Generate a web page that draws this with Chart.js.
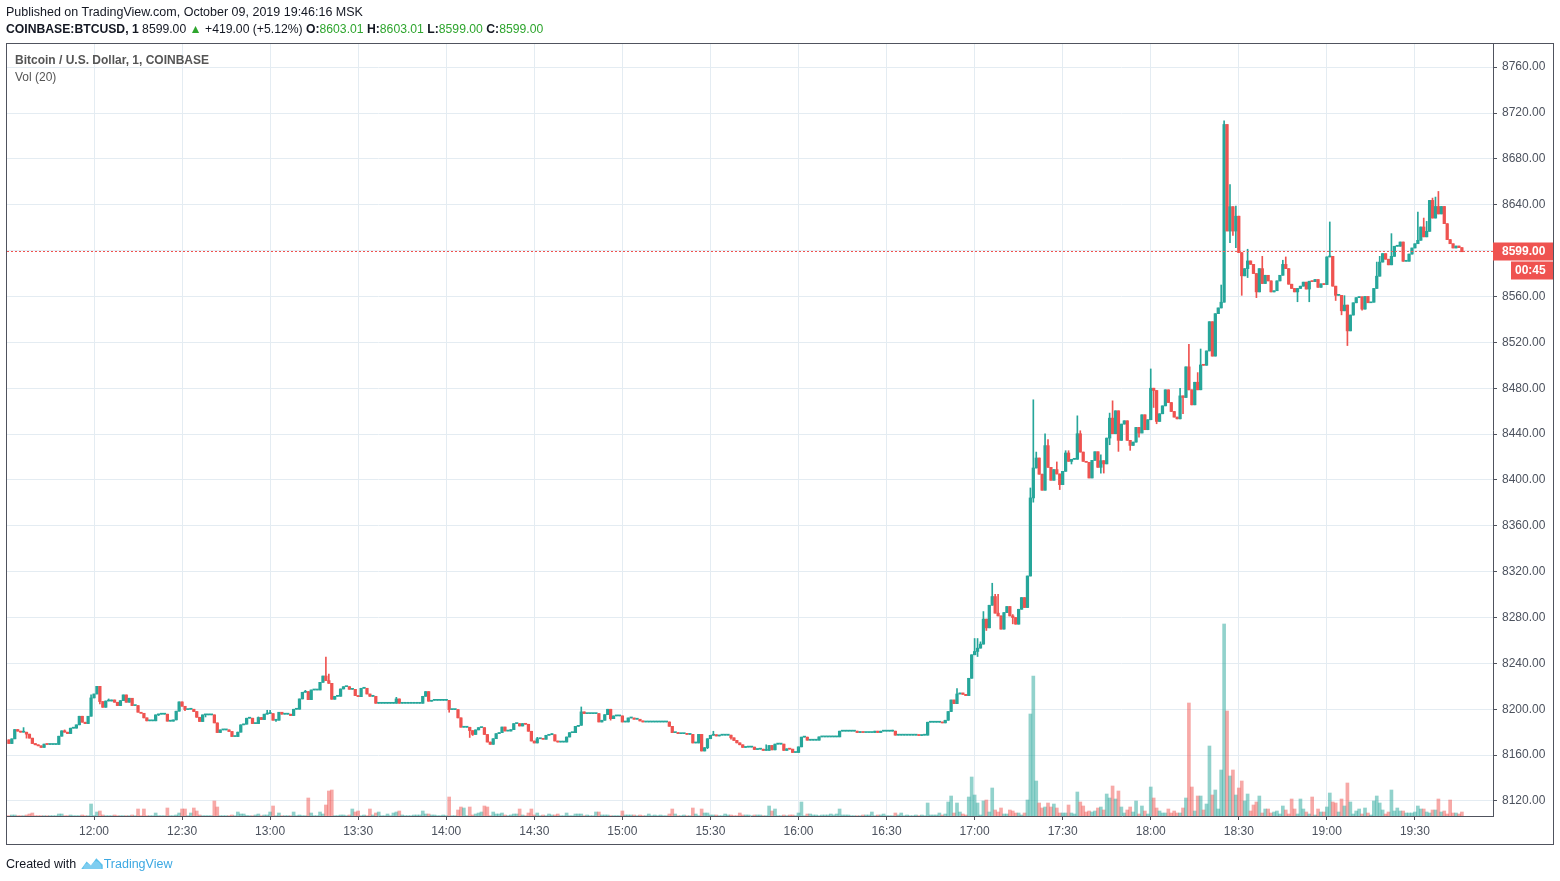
<!DOCTYPE html>
<html>
<head>
<meta charset="utf-8">
<script src="https://cdn.jsdelivr.net/npm/chart.js@4.4.0/dist/chart.umd.min.js"></script>
<style>
body { margin: 0; background: #fff; width: 1560px; height: 881px; overflow: hidden; font-family: "Liberation Sans", Arial, sans-serif; color: #131722; }
#chart { position: absolute; left: 0; top: 0; }
.txt { position: absolute; left: 6px; font-size: 12.5px; line-height: 16px; white-space: nowrap; }
.g { color: #2ea52e; }
.leg { position: absolute; left: 15px; font-size: 12px; line-height: 16px; color: #555; white-space: nowrap; }
.tv { color: #3ca8e2; }
</style>
</head>
<body>
<canvas id="chart" width="1560" height="881"></canvas>
<div class="txt" style="top:4px">Published on TradingView.com, October 09, 2019 19:46:16 MSK</div>
<div class="txt" style="top:21px;font-size:12.2px"><b>COINBASE:BTCUSD, 1</b> 8599.00 <span class="g">&#9650;</span> +419.00 (+5.12%) <b>O:</b><span class="g">8603.01</span> <b>H:</b><span class="g">8603.01</span> <b>L:</b><span class="g">8599.00</span> <b>C:</b><span class="g">8599.00</span></div>
<div class="leg" style="top:52px;font-weight:bold">Bitcoin / U.S. Dollar, 1, COINBASE</div>
<div class="leg" style="top:69px">Vol (20)</div>
<div class="txt" style="top:855px">Created with <svg width="24" height="15" viewBox="0 0 22 14" style="vertical-align:-2px"><path d="M1 13 L6 6 L10 10 L15 3 L21 9 L21 13 Z" fill="#5bc0eb"/><path d="M3 13 C3 7 9 7 10 10 C12 4 19 4 20 13 Z" fill="#8fd3f2" opacity="0.7"/></svg><span class="tv">TradingView</span></div>

<script>
// 1 minute candles from 11:31 to 19:46
const startMinute = 11 * 60 + 31;
const firstOpen = 8173.3;

const closes = [
  8170.1, 8174.2, 8182.3, 8180.9, 8180, 8180, 8178.3, 8174.8, 8170.1, 8169,
  8168.1, 8166.7, 8169.6, 8169.3, 8169.3, 8169.3, 8169.3, 8176.5, 8181.2, 8180,
  8178.8, 8183.5, 8183.5, 8186.4, 8193.9, 8188.7, 8187.5, 8193.9, 8209.9, 8213.3,
  8220, 8206.7, 8201.7, 8207.2, 8207.2, 8208.1, 8206.1, 8203.2, 8207.5, 8212.5,
  8206.1, 8209.6, 8203.2, 8203.2, 8197.4, 8196.5, 8192.5, 8189.9, 8189.9, 8189.9,
  8195.1, 8195.7, 8195.7, 8195.7, 8189.6, 8189.6, 8190.7, 8198.3, 8206.4, 8202.6,
  8199.7, 8200, 8200, 8198, 8193, 8189.3, 8195.1, 8195.1, 8195.1, 8195.1,
  8188.1, 8179.7, 8182, 8182, 8182, 8180.6, 8176.2, 8176.2, 8180, 8186.4,
  8187, 8192.2, 8192.2, 8187.5, 8187.5, 8192.8, 8191, 8195.7, 8196.2, 8196.2,
  8190.4, 8190.4, 8197.4, 8195.7, 8195.7, 8195.7, 8194.5, 8200, 8200, 8209,
  8214.8, 8215.4, 8208.4, 8216.8, 8216.8, 8216.8, 8223.5, 8229, 8225, 8222.6,
  8208.7, 8211.3, 8211.3, 8217.7, 8219.7, 8219.7, 8217.4, 8217.4, 8211.9, 8211,
  8218.3, 8218.3, 8213.3, 8211.3, 8211.3, 8205.2, 8205.2, 8205.2, 8205.2, 8205.2,
  8205.2, 8205.2, 8209, 8205.2, 8205.2, 8205.2, 8205.2, 8205.2, 8205.2, 8205.2,
  8205.2, 8211.3, 8215.4, 8207, 8207.8, 8207.8, 8207.8, 8207.8, 8207.8, 8207.8,
  8199.7, 8199.7, 8199.7, 8192.5, 8184.3, 8184.3, 8184.3, 8181.4, 8178, 8182,
  8184, 8184, 8178, 8171.4, 8169.4, 8174.3, 8178.7, 8179.6, 8184.5, 8181,
  8181, 8182.2, 8187.5, 8187.5, 8185.4, 8187.5, 8186.9, 8180.8, 8172.3, 8170.6,
  8174.3, 8174.3, 8173.8, 8177.3, 8177.8, 8177.8, 8172.3, 8171.4, 8171.4, 8171.4,
  8175.8, 8179.6, 8179.6, 8185.1, 8186, 8197.7, 8196.2, 8196.2, 8196.2, 8196.2,
  8196.2, 8188.9, 8190.4, 8195.3, 8200, 8191.8, 8194.2, 8194.2, 8194.2, 8188.9,
  8188.9, 8192.4, 8192.4, 8191.3, 8191.3, 8189.8, 8188.9, 8188.9, 8188.9, 8188.9,
  8188.9, 8188.9, 8188.9, 8188.9, 8188.9, 8185.1, 8179.6, 8179.6, 8178.7, 8178.7,
  8178.7, 8178.1, 8178.1, 8170.6, 8170.6, 8178.1, 8163.6, 8166.5, 8174.3, 8177.3,
  8177.8, 8176.7, 8177.4, 8177.4, 8177.4, 8177.4, 8175.1, 8172.8, 8170.7, 8169,
  8166.7, 8167, 8167, 8167, 8164.9, 8165.2, 8165.2, 8164.1, 8164.1, 8168.4,
  8164.6, 8169.6, 8169.6, 8169.6, 8164.1, 8165.5, 8165.2, 8162.3, 8162.3, 8167.2,
  8175.7, 8175.7, 8173, 8173, 8173, 8173, 8175.9, 8175.9, 8175.9, 8175.9,
  8175.9, 8175.9, 8175.9, 8180.9, 8180.9, 8180.9, 8180.9, 8180.9, 8180.9, 8179.7,
  8180.3, 8179.7, 8179.7, 8179.7, 8179.7, 8180.9, 8179.7, 8180.9, 8180.9, 8180.9,
  8180.9, 8180.9, 8177.4, 8177.4, 8177.4, 8177.4, 8177.4, 8177.4, 8177.4, 8177.4,
  8177.1, 8177.4, 8177.4, 8188.7, 8188.7, 8188.7, 8188.7, 8188.7, 8188.1, 8190.4,
  8198, 8208.1, 8204.9, 8213.3, 8214.2, 8213, 8211.9, 8227, 8247.5, 8250.4,
  8253.3, 8256.8, 8278.6, 8271, 8290.7, 8298.3, 8283.8, 8281.4, 8269.9, 8284.3,
  8289.6, 8281.4, 8280, 8274.2, 8287.2, 8297.4, 8288.7, 8316.2, 8384.3, 8410.4,
  8419.1, 8405, 8391, 8429.9, 8411, 8399.7, 8409, 8405.2, 8395.9, 8407.5,
  8423.5, 8416.2, 8418, 8418, 8440.3, 8424.3, 8416.2, 8415.4, 8401.7, 8417.1,
  8424.6, 8411, 8416.8, 8414, 8436.5, 8453.9, 8440.3, 8460.3, 8434.5, 8448.7,
  8451.6, 8434.5, 8430.1, 8433, 8445.8, 8440.9, 8456.8, 8443.8, 8452.5, 8480,
  8478, 8451, 8457.7, 8464.6, 8478.6, 8467.5, 8459.7, 8454.8, 8453.3, 8473.3,
  8471.9, 8498.6, 8478.6, 8465.5, 8485.2, 8478.6, 8500.3, 8500, 8512.5, 8538,
  8508, 8545, 8550, 8555, 8710, 8617.1, 8638.3, 8617.1, 8630, 8598.3,
  8578, 8584.3, 8591, 8588, 8580, 8564, 8584.3, 8571.3, 8578.5, 8573.6,
  8564, 8565, 8573.6, 8578.5, 8588, 8584.3, 8570.7, 8567, 8564, 8567,
  8569, 8572.5, 8566.5, 8573.3, 8573, 8574.8, 8568, 8571, 8570.4, 8594.5,
  8595, 8569, 8561, 8561, 8547.5, 8552.5, 8530, 8543.8, 8554.5, 8559,
  8559.7, 8549, 8560, 8554.5, 8555, 8567, 8577.7, 8590, 8597.4, 8592.5,
  8587.6, 8595, 8603.8, 8603.8, 8607.5, 8590.7, 8590.7, 8597, 8602.3, 8606,
  8609, 8620.6, 8612, 8616.8, 8643.8, 8628.4, 8638.5, 8632, 8638.5, 8623.5,
  8609.6, 8606, 8602.3, 8604, 8602.6, 8599
];

// [minute index, high, low] where the wick goes past the body
const wicks = [
  [5, 8184, null], [6, null, 8174.8], [19, 8182, null], [28, 8212.5, null], [31, null, 8204.6],
  [34, 8209, null], [51, null, 8194.5], [60, null, 8198.8], [67, null, 8193.3], [85, 8193.3, null],
  [88, 8199.1, null], [89, 8199.1, null], [91, null, 8189.3], [101, 8216.5, null], [108, 8245.5, null],
  [109, 8230.7, null], [132, 8210.4, null], [150, null, 8197.4], [157, null, 8175.4], [158, null, 8177.1],
  [180, 8175.5, null], [185, 8178.7, null], [195, 8202, null], [205, null, 8190.5], [238, null, 8165.6],
  [240, 8180.8, null], [246, null, 8174], [258, 8169, null], [301, 8181.8, null], [323, 8218, null],
  [329, 8261.7, null], [330, 8261.7, 8246], [331, 8258.8, null], [332, 8285.2, null], [333, null, 8268.7],
  [335, 8309.9, null], [336, 8300.3, null], [337, 8300.3, null], [342, 8282.6, 8274.5], [348, 8393, null],
  [349, 8469.9, 8380.6], [350, 8424.3, null], [353, 8440.3, null], [354, 8435.1, null], [357, 8415.7, null],
  [358, null, 8391.6], [360, 8425.5, null], [361, 8425.5, null], [362, null, 8413.9], [364, 8455.9, null],
  [365, 8442.9, null], [372, 8422, 8406], [373, null, 8406], [375, 8458.3, 8430.7], [376, 8469, null],
  [378, null, 8424.9], [382, null, 8425.8], [385, null, 8437.4], [389, 8496.8, null], [390, null, 8463.2],
  [391, null, 8449], [399, 8480, null], [400, null, 8457.7], [402, 8518.3, null], [405, 8493.6, null],
  [406, 8514.2, null], [413, 8570, null], [414, 8713.3, null], [416, 8657.7, 8607], [417, null, 8613.3],
  [418, 8638.8, 8602.6], [419, 8630.1, null], [420, null, 8561], [422, 8601.2, 8576.5], [425, null, 8559],
  [427, 8595, null], [434, 8591.6, null], [435, 8594.5, null], [439, null, 8555.4], [443, null, 8555.4],
  [450, 8625, null], [452, null, 8556.5], [454, null, 8544], [455, 8560.7, null], [456, null, 8517.2],
  [461, null, 8548], [466, 8590, null], [467, 8595, null], [471, 8614.8, null], [480, 8633.6, null],
  [482, 8628.4, null], [483, 8625.5, null], [485, 8645.8, null], [486, 8646.7, null], [487, 8651.6, null]
];

// volume, in the picture's own units (pixels of bar height)
const volumes = [
  0.3, 1, 1, 0.3, 0.3, 0.3, 1, 2, 3, 0.3,
  0.3, 0.3, 0.3, 0.3, 0.3, 0.3, 0.3, 2, 2, 0.3,
  0.3, 1, 0.3, 0.3, 0.3, 1, 0.3, 0.3, 12, 0.5,
  4, 5, 1, 0.3, 0.3, 0.3, 1, 0.3, 0.3, 0.3,
  0.3, 0.3, 1, 0.3, 7, 0.3, 7, 0.3, 0.3, 0.3,
  3, 0.3, 0.3, 0.3, 8, 0.3, 0.3, 1, 3, 7,
  7, 0.3, 3, 8, 5, 1, 0.3, 0.3, 0.3, 0.3,
  15, 9, 0.3, 0.3, 0.3, 0.3, 1, 0.3, 4, 2,
  2, 0.5, 0.3, 0.3, 1, 2, 0.3, 1, 1, 4,
  10, 0.3, 3, 0.3, 0.3, 0.3, 0.3, 4, 0.3, 1,
  0.3, 0.3, 18, 3, 0.3, 0.3, 4, 2, 11, 25,
  26, 0.3, 0.3, 1, 1, 0.3, 1, 7, 4, 5,
  0.3, 1, 0.3, 7, 1, 3, 4, 0.3, 0.3, 2,
  0.3, 3, 4, 5, 1, 0.3, 0.3, 0.3, 1, 1,
  1, 5, 2, 2, 1, 1, 0.3, 0.3, 1, 0.3,
  19, 0.3, 0.3, 6, 9, 8, 0.3, 9, 1, 2,
  3, 4, 10, 9, 0.3, 4, 2, 2, 3, 1,
  0.3, 1, 2, 2, 7, 1, 0.3, 3, 7, 1,
  3, 0.3, 1, 0.3, 2, 1, 1, 2, 0.3, 0.3,
  3, 0.3, 0.3, 2, 2, 2, 0.3, 1, 0.3, 0.3,
  4, 4, 1, 1, 1, 0.3, 0.3, 0.3, 0.3, 5,
  1, 1, 1, 1, 0.3, 1, 0.3, 0.3, 2, 0.3,
  1, 0.3, 1, 0.3, 0.3, 2, 7, 2, 0.3, 0.3,
  1, 0.3, 0.3, 8, 2, 0.3, 7, 3, 3, 1,
  1, 1, 0.3, 0.3, 2, 1, 1, 0.3, 0.3, 3,
  1, 1, 1, 0.3, 1, 1, 1, 0.3, 0.3, 10,
  5, 7, 0.3, 0.3, 1, 0.3, 1, 1, 0.3, 3,
  14, 0.3, 2, 2, 1, 1, 0.3, 1, 1, 1,
  2, 1, 2, 7, 1, 1, 1, 0.3, 0.3, 0.3,
  0.3, 1, 1, 1, 4, 0.3, 1, 1, 2, 0.3,
  0.3, 0.3, 3, 1, 3, 0.3, 1, 0.3, 0.3, 1,
  0.3, 1, 0.3, 13, 1, 1, 1, 3, 1, 2,
  14, 20, 3, 13, 4, 2, 1, 19, 39, 21,
  13, 1, 15, 16, 4, 28, 6, 4, 8, 2,
  2, 6, 5, 3, 3, 1, 3, 16, 102, 140,
  35, 13, 8, 9, 13, 9, 12, 8, 3, 3,
  3, 11, 3, 2, 24, 14, 10, 4, 5, 4,
  5, 8, 9, 6, 22, 18, 30, 17, 25, 9,
  3, 6, 9, 4, 15, 2, 10, 5, 2, 29,
  18, 8, 5, 3, 3, 7, 3, 5, 3, 3,
  8, 18, 113, 29, 5, 20, 20, 6, 12, 70,
  21, 26, 7, 46, 192, 105, 40, 46, 21, 28,
  35, 15, 22, 5, 11, 14, 20, 3, 7, 7,
  3, 4, 5, 2, 10, 6, 2, 17, 7, 2,
  17, 7, 4, 2, 19, 1, 7, 4, 4, 9,
  23, 14, 13, 4, 17, 10, 33, 14, 2, 5,
  7, 2, 8, 3, 1, 15, 20, 13, 6, 2,
  4, 26, 5, 8, 5, 5, 3, 3, 3, 4,
  10, 7, 7, 4, 3, 6, 6, 17, 4, 5,
  2, 16, 3, 3, 2, 4
];

const timeTicks = [29, 59, 89, 119, 149, 179, 209, 239, 269, 299, 329, 359, 389, 419, 449, 479];
const timeLabels = ['12:00', '12:30', '13:00', '13:30', '14:00', '14:30', '15:00', '15:30',
  '16:00', '16:30', '17:00', '17:30', '18:00', '18:30', '19:00', '19:30'];
const priceTicks = [8120, 8160, 8200, 8240, 8280, 8320, 8360, 8400, 8440, 8480, 8520, 8560, 8600, 8640, 8680, 8720, 8760];
const lastPrice = 8599;

const UP = '#26a69a', DOWN = '#ef5350';
const opens = closes.map((c, i) => i === 0 ? firstOpen : closes[i - 1]);
const highs = closes.map((c, i) => Math.max(c, opens[i]));
const lows = closes.map((c, i) => Math.min(c, opens[i]));
wicks.forEach(([i, h, l]) => {
    if (h !== null) highs[i] = h;
    if (l !== null) lows[i] = l;
});
const isUp = closes.map((c, i) => c >= opens[i]);
const minuteLabel = i => {
    let m = startMinute + i;
    return String(Math.floor(m / 60)).padStart(2, '0') + ':' + String(m % 60).padStart(2, '0');
};

const FONT = 'Liberation Sans';
const GRID = '#e4ecf2';
const AXIS = '#50535e';

const overlay = {
    id: 'overlay',
    afterDraw(chart) {
        const ctx = chart.ctx, area = chart.chartArea;
        const y = Math.round(chart.scales.y.getPixelForValue(lastPrice)) - 0.5;
        ctx.save();
        ctx.strokeStyle = DOWN;
        ctx.lineWidth = 1;
        ctx.setLineDash([2, 2]);
        ctx.beginPath();
        ctx.moveTo(area.left, y);
        ctx.lineTo(area.right, y);
        ctx.stroke();
        ctx.setLineDash([]);
        // price label on the right axis
        ctx.fillStyle = DOWN;
        ctx.fillRect(area.right, y - 9, 60, 18);
        ctx.fillRect(area.right + 18, y + 10, 42, 18);
        ctx.fillStyle = '#fff';
        ctx.font = 'bold 12px ' + FONT;
        ctx.textBaseline = 'middle';
        ctx.textAlign = 'left';
        ctx.fillText(lastPrice.toFixed(2), area.right + 9, y);
        ctx.fillText('00:45', area.right + 22, y + 19);
        // outer frame
        ctx.strokeStyle = AXIS;
        ctx.strokeRect(6.5, 43.5, 1547, 801);
        ctx.restore();
    }
};

new Chart(document.getElementById('chart'), {
    type: 'bar',
    data: {
        labels: closes.map((c, i) => minuteLabel(i)),
        datasets: [
            {
                label: 'body',
                data: closes.map((c, i) => ({ x: i, y: [opens[i], c] })),
                backgroundColor: isUp.map(u => u ? UP : DOWN),
                barThickness: 2.6,
                minBarLength: 1,
                grouped: false,
                yAxisID: 'y',
                order: 1
            },
            {
                label: 'wick',
                data: closes.map((c, i) => ({ x: i, y: [lows[i], highs[i]] })),
                backgroundColor: isUp.map(u => u ? UP : DOWN),
                barThickness: 1,
                grouped: false,
                yAxisID: 'y',
                order: 2
            },
            {
                label: 'Vol (20)',
                data: volumes.map((v, i) => ({ x: i, y: v })),
                backgroundColor: isUp.map(u => u ? 'rgba(38,166,154,0.5)' : 'rgba(239,83,80,0.5)'),
                barThickness: 3,
                grouped: false,
                yAxisID: 'v',
                order: 3
            }
        ]
    },
    options: {
        responsive: false,
        animation: false,
        layout: { padding: { left: 7, top: 44, right: 7, bottom: 37 } },
        plugins: { legend: { display: false }, tooltip: { enabled: false } },
        scales: {
            x: {
                type: 'linear',
                offset: false,
                min: -0.64,
                max: 505.6,
                afterBuildTicks: s => { s.ticks = timeTicks.map(v => ({ value: v })); },
                afterFit: s => { s.height = 28; },
                ticks: {
                    callback: v => timeLabels[timeTicks.indexOf(v)],
                    autoSkip: false, maxRotation: 0, padding: 4,
                    color: '#4c525e', font: { family: FONT, size: 12 }
                },
                grid: { offset: false, color: GRID, tickColor: AXIS, tickLength: 4 },
                border: { color: AXIS }
            },
            y: {
                type: 'linear',
                position: 'right',
                min: 8106.9,
                max: 8780.2,
                afterBuildTicks: s => { s.ticks = priceTicks.map(v => ({ value: v })); },
                afterFit: s => { s.width = 60; },
                ticks: {
                    callback: v => v.toFixed(2),
                    padding: 5,
                    color: '#4c525e', font: { family: FONT, size: 12 }
                },
                grid: { color: GRID, tickColor: AXIS, tickLength: 4 },
                border: { color: AXIS }
            },
            v: { type: 'linear', display: false, min: 0, max: 772 }
        }
    },
    plugins: [overlay]
});
</script>
</body>
</html>
